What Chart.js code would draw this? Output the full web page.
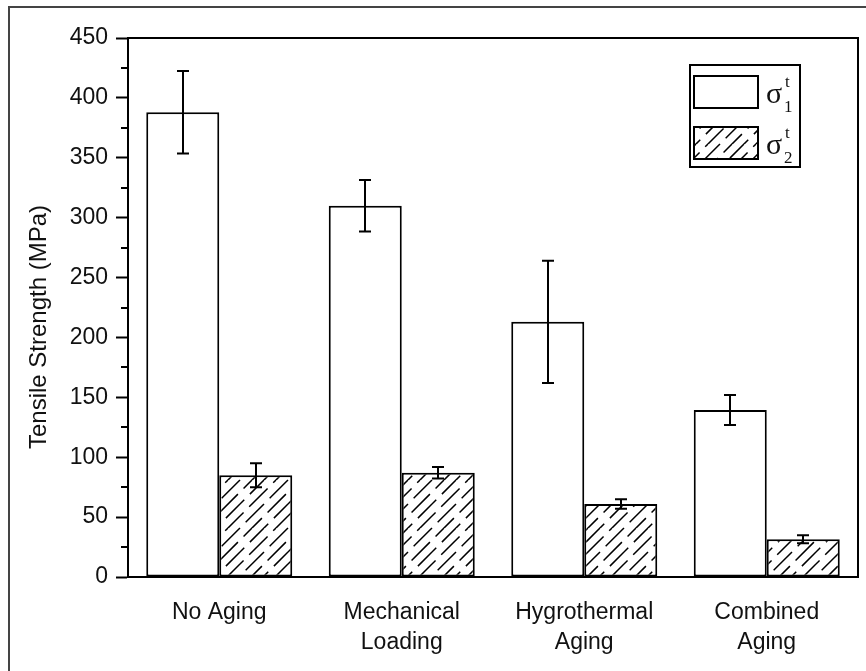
<!DOCTYPE html>
<html>
<head>
<meta charset="utf-8">
<script src="https://cdn.jsdelivr.net/npm/chart.js@4.4.1/dist/chart.umd.min.js"></script>
<style>
  html, body { margin: 0; padding: 0; background: #fff; }
  #wrap { width: 866px; height: 671px; }
</style>
</head>
<body>
<div id="wrap"><canvas id="chart" width="866" height="671"></canvas></div>
<script>
// datos
const categories = [["No Aging"], ["Mechanical", "Loading"], ["Hygrothermal", "Aging"], ["Combined", "Aging"]];
const seriesNames = ["σ1t", "σ2t"];
const legendSubs = ["1", "2"];
const sigma1Values = [388, 310, 213, 139.5];
const sigma1Errors = [34.5, 21.5, 51, 12.5];
const sigma2Values = [85, 87, 61, 31.5];
const sigma2Errors = [10, 4.8, 4, 3.3];
const yTicks = [0, 50, 100, 150, 200, 250, 300, 350, 400, 450];
const yMinorTicks = [25, 75, 125, 175, 225, 275, 325, 375, 425];
const yTitle = "Tensile Strength (MPa)";

const FONT = "'Liberation Sans', Arial, sans-serif";
const SERIF = "'Liberation Serif', 'Times New Roman', serif";

// Patron de rayado diagonal
const makeHatch = () => {
  const s = 48;
  const c = document.createElement("canvas");
  c.width = s; c.height = s;
  const g = c.getContext("2d");
  g.fillStyle = "#fff";
  g.fillRect(0, 0, s, s);
  g.strokeStyle = "#000";
  g.lineWidth = 1.5;
  const period = s * Math.SQRT2 / 2;
  const offsets = [0, 14, 6, 22];
  for (let k = 0; k <= 8; k++) {
    const cc = k * 12;
    g.setLineDash([period - 8, 8]);
    g.lineDashOffset = offsets[k % 4];
    g.beginPath();
    g.moveTo(cc, 0);
    g.lineTo(cc - 2 * s, 2 * s);
    g.stroke();
  }
  return g.createPattern(c, "repeat");
};

const ctx = document.getElementById("chart").getContext("2d");
const hatch = makeHatch();

const extras = {
  id: "extras",
  afterDatasetsDraw(chart) {
    const g = chart.ctx;
    const y = chart.scales.y;
    const a = chart.chartArea;
    g.save();
    g.strokeStyle = "#000";
    g.lineWidth = 2;
    // barras de error
    [sigma1Errors, sigma2Errors].forEach((errs, di) => {
      const meta = chart.getDatasetMeta(di);
      const vals = chart.data.datasets[di].data;
      meta.data.forEach((bar, i) => {
        const top = y.getPixelForValue(vals[i] + errs[i]);
        const bot = y.getPixelForValue(vals[i] - errs[i]);
        const x = Math.round(bar.x);
        g.beginPath();
        g.moveTo(x, top); g.lineTo(x, bot);
        g.moveTo(x - 6, top); g.lineTo(x + 6, top);
        g.moveTo(x - 6, bot); g.lineTo(x + 6, bot);
        g.stroke();
      });
    });
    // marco superior y derecho
    g.beginPath();
    g.moveTo(a.left, a.top); g.lineTo(a.right, a.top); g.lineTo(a.right, a.bottom);
    g.stroke();
    // ticks menores
    g.beginPath();
    yMinorTicks.forEach(v => {
      const py = Math.round(y.getPixelForValue(v));
      g.moveTo(a.left - 7, py); g.lineTo(a.left, py);
    });
    g.stroke();
    g.restore();
  },
  afterDraw(chart) {
    const g = chart.ctx;
    g.save();
    // borde exterior de la figura
    g.strokeStyle = "#444";
    g.lineWidth = 2;
    g.beginPath();
    g.moveTo(9, chart.height); g.lineTo(9, 7); g.lineTo(chart.width, 7);
    g.stroke();

    // titulo del eje y
    g.fillStyle = "#111";
    g.font = "24px " + FONT;
    g.textAlign = "center";
    g.textBaseline = "middle";
    g.translate(39, 327);
    g.rotate(-Math.PI / 2);
    g.fillText(yTitle, 0, 0);
    g.setTransform(1, 0, 0, 1, 0, 0);

    // leyenda
    const lx = 690, ly = 65, lw = 110, lh = 102;
    g.strokeStyle = "#000";
    g.lineWidth = 2;
    g.fillStyle = "#fff";
    g.fillRect(lx, ly, lw, lh);
    g.strokeRect(lx, ly, lw, lh);
    chart.data.datasets.forEach((ds, i) => {
      const sy = ly + 11 + i * 51;
      g.fillStyle = ds.backgroundColor;
      g.fillRect(lx + 4, sy, 64, 32);
      g.strokeRect(lx + 4, sy, 64, 32);
      g.fillStyle = "#111";
      g.textAlign = "left";
      g.textBaseline = "alphabetic";
      g.font = "30px " + SERIF;
      g.fillText("σ", lx + 76, sy + 27);
      g.font = "17px " + SERIF;
      g.fillText("t", lx + 95, sy + 11);
      g.fillText(legendSubs[i], lx + 94, sy + 36);
    });
    g.restore();
  }
};

new Chart(ctx, {
  type: "bar",
  data: {
    labels: categories,
    datasets: [
      {
        label: seriesNames[0],
        data: sigma1Values,
        backgroundColor: "#fff",
        borderColor: "#000",
        borderWidth: 2,
        borderSkipped: false
      },
      {
        label: seriesNames[1],
        data: sigma2Values,
        backgroundColor: hatch,
        borderColor: "#000",
        borderWidth: 2,
        borderSkipped: false
      }
    ]
  },
  options: {
    responsive: false,
    animation: false,
    layout: { padding: { top: 38, right: 8, left: 0, bottom: 0 } },
    datasets: { bar: { categoryPercentage: 0.8, barPercentage: 1.0 } },
    plugins: {
      legend: { display: false },
      tooltip: { enabled: false }
    },
    scales: {
      x: {
        offset: true,
        grid: { display: false },
        border: { display: true, color: "#000", width: 2 },
        ticks: {
          color: "#111",
          font: { family: FONT, size: 23, lineHeight: 1.3 },
          padding: 13,
          maxRotation: 0,
          autoSkip: false
        },
        afterFit(scale) { scale.height = 94; }
      },
      y: {
        min: 0,
        max: 450,
        grid: { display: true, drawOnChartArea: false, drawTicks: true, tickLength: 12, tickColor: "#000", tickWidth: 2 },
        border: { display: true, color: "#000", width: 2 },
        ticks: {
          stepSize: 50,
          color: "#111",
          font: { family: FONT, size: 23 },
          padding: 8,
          callback: v => (yTicks.includes(v) ? String(v) : "")
        },
        afterFit(scale) { scale.width = 128; }
      }
    }
  },
  plugins: [extras]
});
</script>
</body>
</html>
